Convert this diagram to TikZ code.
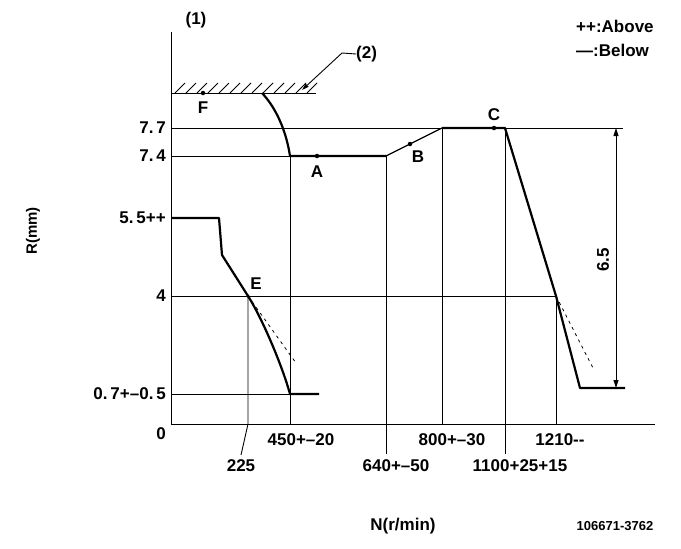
\documentclass[tikz,border=0pt]{standalone}
\usepackage{fontspec}
\setmainfont{Liberation Sans}
\usetikzlibrary{arrows.meta}
\begin{document}
\begin{tikzpicture}[x=1pt,y=-1pt,
  thin line/.style={line width=0.9pt},
  thick curve/.style={line width=2.2pt,line join=round},
  dash curve/.style={line width=0.8pt,dash pattern=on 3pt off 4pt},
  lbl/.style={font=\fontsize{17}{19}\selectfont\bfseries,inner sep=0pt},
  small lbl/.style={font=\fontsize{13}{15}\selectfont\bfseries,inner sep=0pt},
  dotpt/.style={circle,fill=black,inner sep=0pt,minimum size=4.5pt}]
\useasboundingbox (0,0) rectangle (681,549);
% axes
\coordinate (ytop) at (171,32);
\coordinate (orig) at (171,424);
\coordinate (xend) at (655,424);
\draw[thin line] (ytop) -- (orig) -- (xend);
% stopper line with hatching
\coordinate (h0) at (171,93);
\coordinate (h1) at (316,93);
\draw[thin line] (h0) -- (h1);
\foreach \i in {0,...,12} {
  \draw[line width=0.8pt] (175+11*\i,93) -- (185+11*\i,83);
}
% horizontal reference lines
\coordinate (l77a) at (171,128); \coordinate (l77b) at (623,128);
\coordinate (l74a) at (171,156); \coordinate (l74b) at (386,156);
\coordinate (l4a) at (171,296);  \coordinate (l4b) at (556,296);
\coordinate (l07a) at (171,394); \coordinate (l07b) at (290,394);
\draw[thin line] (l77a) -- (l77b);
\draw[thin line] (l74a) -- (l74b);
\draw[thin line] (l4a) -- (l4b);
\draw[thin line] (l07a) -- (l07b);
% vertical reference lines
\coordinate (v225t) at (248,296); \coordinate (v225b) at (248,424); \coordinate (v225e) at (241,455);
\coordinate (v450t) at (290,156); \coordinate (v450b) at (290,424);
\coordinate (v640t) at (386,156); \coordinate (v640b) at (386,454);
\coordinate (v800t) at (442,128); \coordinate (v800b) at (442,424);
\coordinate (v1100t) at (505,128); \coordinate (v1100b) at (505,454);
\coordinate (v1210t) at (556,296); \coordinate (v1210b) at (556,424);
\draw[thin line] (v225t) -- (v225b) -- (v225e);
\draw[thin line] (v450t) -- (v450b);
\draw[thin line] (v640t) -- (v640b);
\draw[thin line] (v800t) -- (v800b);
\draw[thin line] (v1100t) -- (v1100b);
\draw[thin line] (v1210t) -- (v1210b);
% main characteristic (upper)
\coordinate (fs) at (262,93);
\coordinate (pA0) at (290,156);
\coordinate (pB0) at (386,156);
\coordinate (pC0) at (442,128);
\coordinate (pC1) at (505,128);
\coordinate (p4r) at (556,296);
\coordinate (pbot) at (580,388);
\coordinate (pend) at (625,388);
\draw[thick curve] (fs) .. controls (276,108) and (286,130) .. (pA0) -- (pB0);
\draw[line width=1.2pt] (pB0) -- (pC0);
\draw[thick curve] (pC0) -- (pC1) -- (p4r) -- (pbot) -- (pend);
% lower characteristic
\coordinate (s0) at (171,218);
\coordinate (s1) at (219,218);
\coordinate (s2) at (222,255);
\coordinate (pE) at (248,296);
\coordinate (s3) at (290,394);
\coordinate (s4) at (319,394);
\draw[thick curve] (s0) -- (s1) -- (s2) -- (pE) .. controls (262,318) and (282,365) .. (s3) -- (s4);
% dashed extensions
\coordinate (dE) at (296,363);
\coordinate (d1210) at (593,368);
\draw[dash curve] (pE) -- (dE);
\draw[dash curve] (p4r) -- (d1210);
% points
\node[dotpt] (F) at (203,93) {};
\node[dotpt] (A) at (317,156) {};
\node[dotpt] (B) at (410,144) {};
\node[dotpt] (C) at (494,128) {};
\node[dotpt,minimum size=3.5pt] (E) at (248,296) {};
\node[lbl] (Flbl) at (203,108) {F};
\node[lbl] (Albl) at (317,172) {A};
\node[lbl] (Blbl) at (418,157) {B};
\node[lbl] (Clbl) at (494,115) {C};
\node[lbl] (Elbl) at (256,284) {E};
% dimension 6.5
\coordinate (dimt) at (616,128);
\coordinate (dimb) at (616,388);
\draw[thin line,{Triangle[length=8pt,width=5pt]}-{Triangle[length=8pt,width=5pt]}] (dimt) -- (dimb);
\node[lbl,rotate=90] (dimlbl) at (603,260) {6.5};
% leader (2)
\node[lbl,anchor=west] (lbl2) at (356,54) {(2)};
\coordinate (ld0) at (342,53);
\coordinate (ldtip) at (302,90);
\draw[thin line,-{Triangle[length=7pt,width=4pt]}] (lbl2.west) -- (ld0) -- (ldtip);
% texts
\node[lbl] (lbl1) at (196,20) {(1)};
\node[lbl,anchor=west] (above) at (576,26) {++:Above};
\node[lbl,anchor=west] (below) at (576,50) {—:Below};
\node[lbl,rotate=90,font=\fontsize{15}{17}\selectfont\bfseries] (Rmm) at (33,231) {R(mm)};
\node[lbl,anchor=east] (y55) at (166,218) {5.\,5++};
\node[lbl,anchor=east] (y77) at (166,128) {7.\,7};
\node[lbl,anchor=east] (y74) at (166,156) {7.\,4};
\node[lbl,anchor=east] (y4) at (166,296) {4};
\node[lbl,anchor=east] (y07) at (166,394) {0.\,7+–0.\,5};
\node[lbl] (y0) at (161,434) {0};
\node[lbl] (x450) at (301,440) {450+–20};
\node[lbl] (x225) at (241,466) {225};
\node[lbl] (x640) at (396,466) {640+–50};
\node[lbl] (x800) at (452,440) {800+–30};
\node[lbl] (x1210) at (560,440) {1210-{}-};
\node[lbl] (x1100) at (520,466) {1100+25+15};
\node[lbl] (Nlbl) at (403,526) {N(r/min)};
\node[small lbl] (code) at (615,526) {106671-3762};
\end{tikzpicture}
\end{document}
